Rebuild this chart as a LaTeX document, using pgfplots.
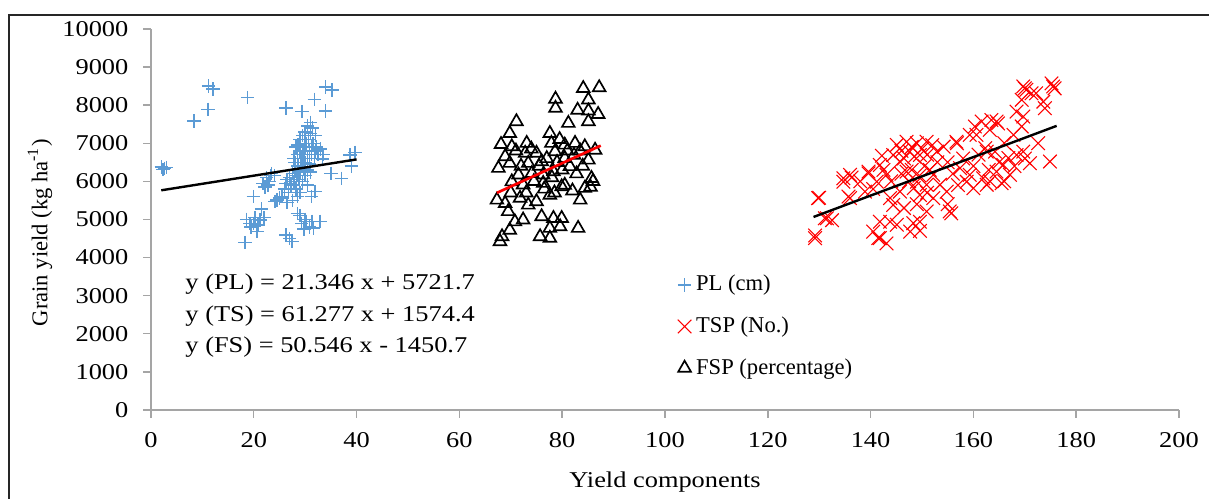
\documentclass[border=0pt]{standalone}
\usepackage{fontspec}
\setmainfont{Liberation Serif}
\usepackage{pgfplots}
\pgfplotsset{compat=1.18}
\definecolor{plblue}{RGB}{91,155,213}
\definecolor{axgray}{RGB}{165,165,165}

\begin{document}
\begin{tikzpicture}[font=\fontsize{9.4}{11}\selectfont]
\begin{axis}[
  set layers,
  scale only axis, width=428.3pt, height=158.75pt,
  at={(0,0)}, anchor=south west,
  xmin=0, xmax=200, ymin=0, ymax=10000,
  xtick={0,20,...,200}, ytick={0,1000,...,10000},
  scaled y ticks=false, scaled x ticks=false,
  axis lines=left, axis line style={axgray, line width=0.6pt, -},
  tick style={axgray, line width=0.6pt}, tick align=outside, major tick length=3.3pt,
  /pgf/number format/1000 sep={}, /pgf/number format/assume math mode=true,
  xticklabel style={xscale=1.17, yshift=-2.5pt}, yticklabel style={xscale=1.17, xshift=-1.7pt},
  xlabel={Yield components},
  xlabel style={at={(axis description cs:0.5,-0.19)}, anchor=center, xscale=1.17},
  ylabel={Grain yield (kg ha\textsuperscript{-1})},
  ylabel style={at={(axis description cs:-0.108,0.465)}, anchor=center, rotate=0},
  clip=false,
  legend style={draw=none, fill=none, at={(axis cs:101,3800)}, anchor=north west,
    row sep=5.3pt, font=\fontsize{9.4}{11}\selectfont},
  legend cell align=left,
  legend image code/.code={\draw[#1] plot coordinates {(0.1cm,0cm)};},
]
\addplot[only marks, mark=+, plblue, mark size=2.8pt, mark options={line width=0.6pt}] coordinates {
(2.0,6380) (2.6,6340) (3.0,6370) (2.3,6310) (11.2,8500) (12.1,8420) (11.1,7890)
(8.4,7585) (18.8,8200) (26.3,7920) (29.4,7830) (31.8,8150) (34.0,8470) (35.2,8400)
(33.9,7850) (39.7,6760) (38.7,6690) (39.0,6400) (37.1,6080) (33.4,6590)
(18.3,4390) (18.6,5000) (19.3,4900) (19.9,4900) (20.2,5050) (20.6,4680) (21.2,4990)
(21.5,5270) (22.0,5050) (19.9,5600) (19.5,4800) (20.8,4850)
(26.3,4590) (27.0,4500) (27.4,4420) (29.0,5100) (29.3,4900) (29.8,4750) (30.3,4950)
(30.8,4800) (31.3,4950) (31.6,4780) (32.9,4950) (30.0,5000) (31.9,5730) (31.2,5600)
(28.5,5150) (21.8,5950) (22.2,5850) (22.5,6100) (23.0,6000) (23.4,6200) (22.8,5900)
(23.2,6150) (24.1,5470) (24.5,5510) (25.0,5560) (25.5,5600) (26.0,5800) (26.3,5950)
(26.5,6050) (26.8,5700) (27.0,6100) (27.2,5900) (27.5,6200) (27.8,6000) (28.0,6300)
(28.2,5800) (28.4,6150) (28.6,6400) (28.8,6050) (29.0,6250) (29.2,6500) (29.4,6600)
(29.6,6800) (29.8,6700) (30.0,6900) (30.2,7000) (30.4,6600) (30.6,7100) (30.8,6800)
(31.0,7250) (31.2,6900) (31.4,7400) (31.0,7550) (30.5,7450) (31.5,7000) (32.0,6800)
(32.5,6700) (32.2,6900) (33.0,6850) (33.5,6700) (28.5,6700) (28.2,6900) (29.0,7100)
(29.5,7200) (30.0,6500) (31.8,6600) (27.8,6600) (28.0,6500) (29.8,6350) (30.5,6300)
(29.0,5700) (28.5,5600) (27.5,5500) (26.5,5450) (30.0,6150) (31.0,6250) (30.4,5900)
(29.5,6000) (32.0,7200) (30.0,7300) (30.8,6450) (29.0,6800) (28.6,6950) (31.2,6700)
(35.0,6200) (24.0,6150)
};
\addlegendentry{PL (cm)}
\addplot[only marks, mark=x, red, mark size=4pt, mark options={line width=0.45pt}] coordinates {
(130.0,5570) (129.2,4510) (131.5,5030) (132.5,4980) (129.8,5560) (129.2,4580)
(131.1,5030) (134.7,5990) (136.0,6170) (136.0,5560) (134.7,6080) (136.3,6100)
(135.7,5600) (139.6,6210) (138.9,5730) (139.6,6255) (141.2,5990) (141.8,6430)
(142.2,6670) (143.1,6170) (144.4,6690) (145.1,6955) (147.0,7040) (149.0,7000)
(150.9,7040) (152.9,6780) (154.2,6910) (156.8,7000) (156.7,7040) (147.6,6780)
(149.6,6690) (145.7,6520) (147.0,6255) (149.0,5990) (148.4,5820) (150.9,5910)
(152.2,6170) (153.5,5910) (154.8,5730) (145.7,5730) (143.8,5560) (149.6,5640)
(152.2,5560) (144.4,5380) (150.9,5210) (155.4,5210) (155.7,5160) (141.8,4940)
(143.8,4940) (145.1,4860) (148.3,4900) (149.6,4940) (147.7,4680) (141.8,4510)
(143.1,4370) (141.5,4510) (140.5,4680) (149.6,4700) (157.4,6345) (158.7,5990)
(160.0,5820) (159.3,6170) (161.9,6080) (162.6,5910) (160.6,7220) (161.6,7570)
(163.5,7610) (163.2,7350) (164.2,6780) (162.3,6870) (159.3,7220) (160.3,7440)
(164.5,7570) (170.0,8440) (175.5,8490) (171.3,8310) (169.4,8140) (173.6,8090)
(173.9,7920) (168.4,7830) (169.7,7700) (164.8,7520) (169.4,7440) (167.8,7220)
(172.6,7000) (174.9,6520) (169.7,6780) (168.4,6690) (171.0,6475) (166.8,6610)
(165.8,6430) (164.5,6255) (163.2,6000) (165.5,5950) (167.1,6170) (162.6,6780)
(169.7,8490) (170.3,8400) (175.2,8570) (175.8,8440) (172.2,8310)
(146.0,6800) (146.5,6600) (148.0,6900) (148.5,6650) (150.0,6850) (151.0,6700)
(152.0,6950) (150.5,6400) (148.0,6300) (146.0,6200) (147.5,6000) (149.5,6150)
(151.5,6300) (153.0,6500) (151.0,5700) (149.0,5400) (146.5,5300) (144.0,6000)
(142.5,6300) (140.5,5800) (138.0,6000) (156.0,6200) (155.0,6500) (157.0,5900)
(158.0,6600) (160.0,6400) (161.0,6700) (163.0,6300) (165.0,6500) (166.0,7000)
(168.0,6400) (170.0,6600) (166.0,6000) (155.0,5400)
};
\addlegendentry{TSP (No.)}
\addplot[only marks, mark=triangle, black, mark size=3.05pt, mark options={line width=0.7pt}] coordinates {
(84.1,8440) (87.2,8460) (78.7,8160) (78.7,7920) (85.1,8140) (83.0,7870) (85.1,7850)
(87.0,7760) (81.2,7525) (85.1,7570) (71.1,7570) (69.8,7260) (68.1,6970) (70.2,6910)
(73.1,7000) (77.6,7260) (77.9,7000) (80.5,6955) (82.5,7000) (84.4,6910) (86.4,6820)
(75.0,6740) (68.9,6650) (72.8,6740) (78.6,6780) (67.6,6345) (69.8,6475) (73.4,6475)
(76.0,6520) (80.5,6605) (82.3,6690) (85.1,6560) (71.5,6170) (74.1,6210) (76.3,6170)
(78.3,6255) (81.5,6390) (80.0,6300) (82.8,6200) (70.2,5990) (72.4,5910) (76.3,5950)
(79.9,5860) (85.7,6080) (84.4,5820) (67.3,5510) (68.9,5420) (71.8,5560) (75.0,5470)
(73.4,5380) (77.6,5640) (83.5,5510) (69.5,5210) (70.8,4940) (72.4,4990) (76.0,5075)
(78.3,5030) (79.9,5030) (79.6,4810) (69.8,4720) (77.6,4770) (83.1,4770) (67.9,4420)
(68.3,4550) (75.7,4550) (77.6,4510) (74.5,6000) (75.5,6400) (77.0,6600) (79.0,6500)
(81.0,6800) (83.5,6800) (84.0,6400) (86.0,6000) (72.0,6400) (71.0,6800) (74.0,6850)
(79.5,7100) (76.5,5800) (78.5,5700) (80.5,5900) (82.0,5750) (73.0,5700) (70.0,5700)
(85.5,5850) (78.0,6100)
};
\addlegendentry{FSP (percentage)}
\addplot[black, line width=1pt, forget plot, on layer=axis foreground] coordinates {(2,5764.4) (40,6575.5)};
\addplot[red, line width=1.1pt, forget plot, on layer=axis foreground] coordinates {(67.3,5698.3) (87.5,6936.1)};
\addplot[black, line width=1pt, forget plot, on layer=axis foreground] coordinates {(128.9,5064.7) (176.2,7455.5)};
\node[anchor=west, inner sep=0pt, xscale=1.17] at (axis cs:6.6,3307) {y (PL) = 21.346 x + 5721.7};
\node[anchor=west, inner sep=0pt, xscale=1.17] at (axis cs:6.6,2467) {y (TS) = 61.277 x + 1574.4};
\node[anchor=west, inner sep=0pt, xscale=1.17] at (axis cs:6.6,1654) {y (FS) = 50.546 x - 1450.7};
\end{axis}
\draw[line width=0.6pt, black!85] (-59.2pt,-45pt) -- (-59.2pt,164.6pt) -- (450pt,164.6pt);
\pgfresetboundingbox
\useasboundingbox (-62.9pt,-37.1pt) rectangle (440.8pt,170.8pt);
\end{tikzpicture}
\end{document}
